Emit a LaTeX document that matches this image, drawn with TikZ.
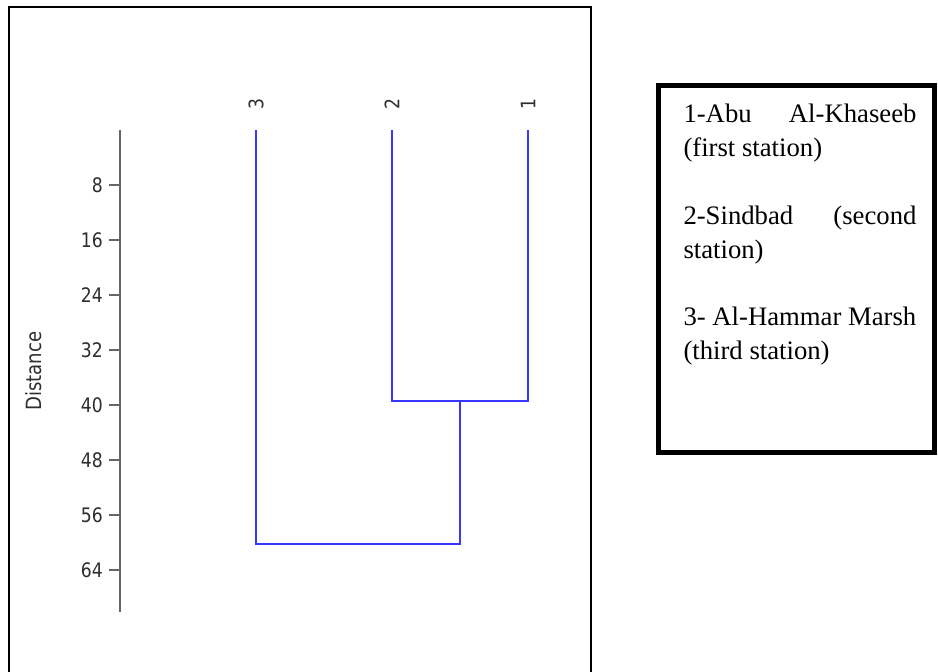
\documentclass[tikz,border=0pt]{standalone}
\usepackage{fontspec}
\setmainfont{Liberation Serif}
\newfontfamily\axisfont[FakeStretch=0.86]{DejaVu Sans}
\begin{document}
\begin{tikzpicture}[x=1pt,y=-1pt,
  frame/.style={draw=black,line width=2.4pt},
  legendframe/.style={draw=black,line width=5pt},
  axisline/.style={draw=black!60,line width=2.5pt},
  branch/.style={draw={rgb,255:red,55;green,55;blue,255},line width=2pt,line join=miter},
  ticklabel/.style={font=\axisfont\fontsize{20}{24}\selectfont,text=black!82,anchor=east,inner sep=0pt},
  leaflabel/.style={font=\axisfont\fontsize{20}{24}\selectfont,text=black!82,rotate=90,inner sep=0pt},
  axistitle/.style={font=\axisfont\fontsize{21}{25}\selectfont,text=black!82,rotate=90,inner sep=0pt},
  legendline/.style={font=\fontsize{26.7}{34}\selectfont,anchor=base west,inner sep=0pt}]

\useasboundingbox (0,0) rectangle (938,672);
\fill[white] (0,0) rectangle (938,672);

% frame around the dendrogram, open at the bottom
\draw[frame] (9,690) -- (9,7) -- (591,7) -- (591,690);

% distance axis with ticks every 8 units (6.875 px per unit)
\coordinate (axtop) at (120,129.5);
\coordinate (axbot) at (120,611.5);
\draw[axisline] (axtop) -- (axbot);
\foreach \v in {8,16,...,64}{
  \pgfmathsetmacro\yy{130+6.875*\v}
  \coordinate (tk\v) at (120,\yy);
  \coordinate (tl\v) at (109,\yy);
  \draw[axisline] (tl\v) -- (tk\v);
  \node[ticklabel] (lab\v) at (103,\yy) {\v};
}
\node[axistitle] (dist) at (33.5,371) {Distance};

% leaves
\coordinate (leaf3) at (256,130);
\coordinate (leaf2) at (392,130);
\coordinate (leaf1) at (528,130);
\node[leaflabel] (n3) at (256,104) {3};
\node[leaflabel] (n2) at (392,104) {2};
\node[leaflabel] (n1) at (528,104) {1};

% merge heights: 39.4 and 60.2
\coordinate (m12) at (460,400.7);
\coordinate (m12r) at (528,400.7);
\coordinate (mall) at (460,544);

\draw[branch] (leaf2) |- (m12r) -- (leaf1);
\draw[branch] (leaf3) |- (mall) -- (m12);

% legend
\draw[legendframe] (658.5,85.5) rectangle (934.5,452.5);
\node[legendline] (l1a) at (683.3,122) {\hbox to 233pt{1-Abu\hfill Al-Khaseeb}};
\node[legendline] (l1b) at (683.3,156.5) {(first station)};
\node[legendline] (l2a) at (683.3,224) {\hbox to 233pt{2-Sindbad\hfill (second}};
\node[legendline] (l2b) at (683.3,258.5) {station)};
\node[legendline] (l3a) at (683.3,325) {3- Al-Hammar Marsh};
\node[legendline] (l3b) at (683.3,359.5) {(third station)};
\end{tikzpicture}
\end{document}
